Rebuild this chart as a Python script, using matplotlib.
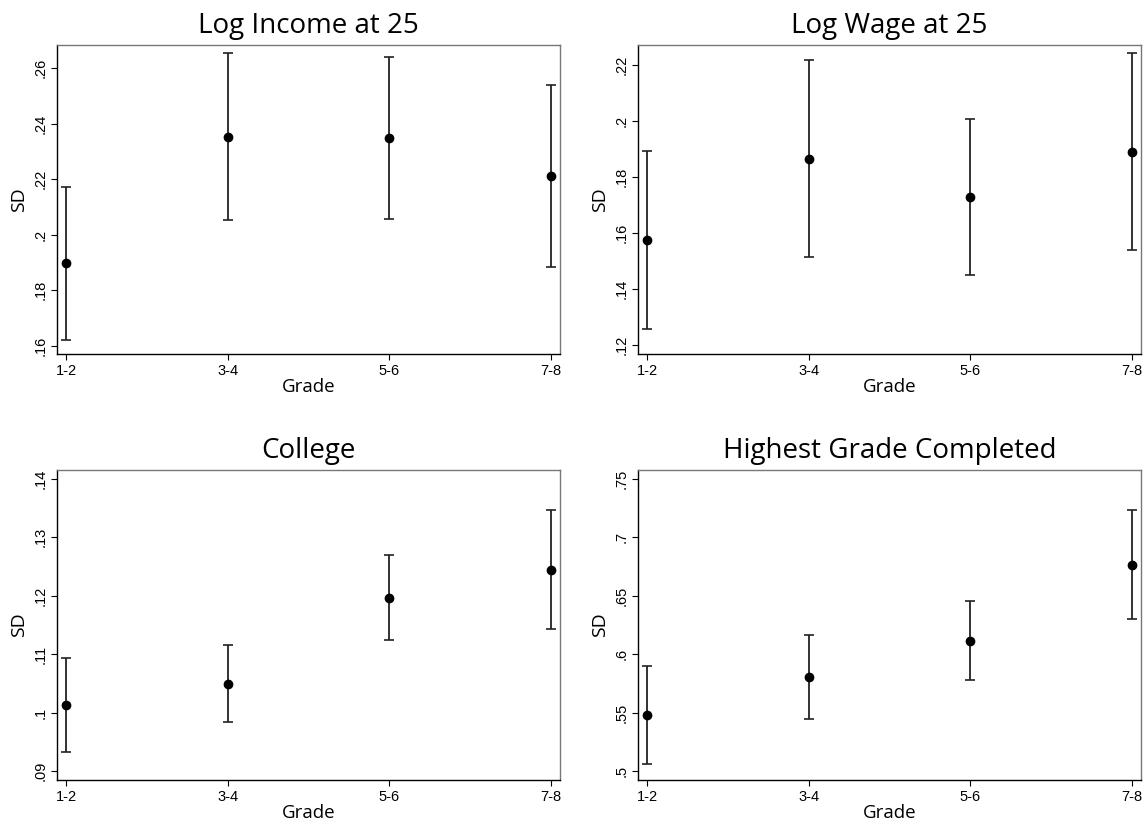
import matplotlib
matplotlib.use("Agg")
import matplotlib.pyplot as plt
import numpy as np

####################################
# Dados

grades = ["1-2", "3-4", "5-6", "7-8"]

# Log Income at 25
income_sd = [0.1897, 0.2352, 0.2349, 0.2212]
income_lo = [0.1620, 0.2054, 0.2057, 0.1885]
income_hi = [0.2173, 0.2654, 0.2642, 0.2538]

# Log Wage at 25
wage_sd = [0.1575, 0.1865, 0.1729, 0.1889]
wage_lo = [0.1256, 0.1514, 0.1451, 0.1540]
wage_hi = [0.1894, 0.2219, 0.2007, 0.2242]

# College
college_sd = [0.1013, 0.1049, 0.1197, 0.1244]
college_lo = [0.0933, 0.0984, 0.1125, 0.1143]
college_hi = [0.1094, 0.1116, 0.1270, 0.1346]

# Highest Grade Completed
hgc_sd = [0.5481, 0.5804, 0.6110, 0.6765]
hgc_lo = [0.5063, 0.5441, 0.5775, 0.6304]
hgc_hi = [0.5898, 0.6167, 0.6450, 0.7228]

titles = ["Log Income at 25", "Log Wage at 25", "College", "Highest Grade Completed"]
yticks = [np.arange(0.16, 0.2601, 0.02), np.arange(0.12, 0.2201, 0.02),
          np.arange(0.09, 0.1401, 0.01), np.arange(0.50, 0.7501, 0.05)]
ylims = [(0.157, 0.2684), (0.1168, 0.2271), (0.0885, 0.1415), (0.4923, 0.7574)]

panels = [
    (income_sd, income_lo, income_hi),
    (wage_sd, wage_lo, wage_hi),
    (college_sd, college_lo, college_hi),
    (hgc_sd, hgc_lo, hgc_hi),
]

####################################
# Layout (em fracao da figura)
W, H = 1146, 822
lefts = [57, 638, 57, 638]
tops = [45, 45, 470, 470]
bottoms = [354, 354, 780, 780]
aw = 503

fig = plt.figure(figsize=(W / 100, H / 100), dpi=100)
fig.patch.set_facecolor("white")

title_font = "Open Sans"
tick_font = "Liberation Sans"


def stata_fmt(v):
    s = f"{v:.2f}".rstrip("0").rstrip(".")
    if s.startswith("0"):
        s = s[1:]
    return s


x = np.arange(1, len(grades) + 1)

for i, (sd, lo, hi) in enumerate(panels):
    ax = fig.add_axes([lefts[i] / W, 1 - bottoms[i] / H, aw / W, (bottoms[i] - tops[i]) / H])
    sd = np.array(sd)
    err = [sd - np.array(lo), np.array(hi) - sd]
    ax.errorbar(x, sd, yerr=err, fmt="none", ecolor="#222222", elinewidth=1.3,
                capsize=3.5, capthick=1.2)
    ax.plot(x, sd, "o", color="black", markersize=6)

    ax.set_xlim(0.942, 4.058)
    ax.set_ylim(*ylims[i])
    ax.set_xticks(x)
    ax.set_xticklabels(grades, fontsize=10.5, family=tick_font)
    ax.set_yticks(yticks[i])
    ax.set_yticklabels([stata_fmt(v) for v in yticks[i]], fontsize=10.5,
                       family=tick_font, rotation=90, va="center")
    ax.tick_params(length=4, width=0.8, pad=3)

    ax.set_title(titles[i], fontsize=20, family=title_font, pad=8.5)
    ax.set_xlabel("Grade", fontsize=13.5, family=title_font, labelpad=0)
    ax.set_ylabel("SD", fontsize=14, family=title_font, labelpad=4)

    for side in ["left", "bottom"]:
        ax.spines[side].set_color("black")
        ax.spines[side].set_linewidth(1.0)
    for side in ["top", "right"]:
        ax.spines[side].set_color("#777777")
        ax.spines[side].set_linewidth(1.0)

fig.savefig("out.png", dpi=100)
